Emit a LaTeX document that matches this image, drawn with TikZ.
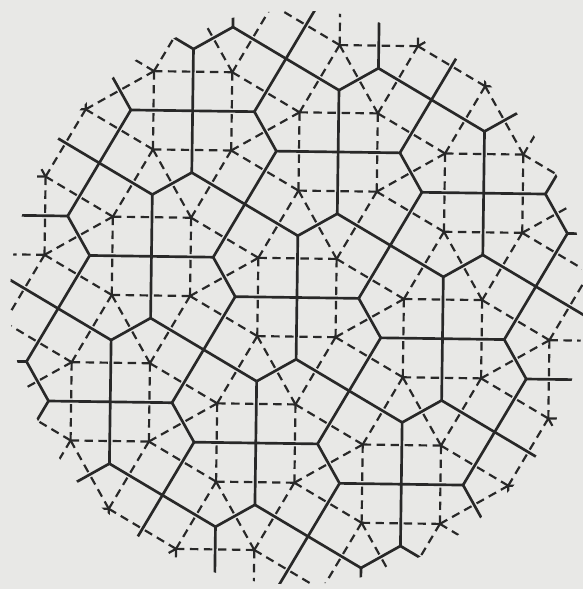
\documentclass[tikz,border=0pt]{standalone}
\usetikzlibrary{calc}
\begin{document}
\begin{tikzpicture}[
    x=1.9575cm, y=1.9575cm,
    cell/.style={draw=InkGrey, line width=1.9pt},
    dual/.style={draw=InkGrey, line width=1.55pt, dash pattern=on 6pt off 3.9pt},
]
    \definecolor{PaperGrey}{RGB}{232,232,230}
    \definecolor{InkGrey}{RGB}{40,40,40}

    \fill[PaperGrey] (-3.793,-3.723) rectangle (3.653,3.800);
    \useasboundingbox (-3.793,-3.723) rectangle (3.653,3.800);

    \begin{scope}[rotate=-0.8]
    \clip (0,0) circle (3.665);
    \foreach \r in {0,90,180,270} {
    \begin{scope}[rotate=\r]
        % Sites of one quarter (and the neighbours they need)
        \coordinate (A) at (0.5,0.5);
        \coordinate (RA) at (-0.5,0.5);
        \coordinate (B) at (0,1.366);
        \coordinate (pB) at (1.366,0);
        \coordinate (C) at (1,1.366);
        \coordinate (D) at (0,2.366);
        \coordinate (pD) at (2.366,0);
        \coordinate (E) at (1,2.366);
        \coordinate (F) at (0.5,3.232);
        \coordinate (G) at (1.5,3.232);
        \coordinate (H) at (2.366,2.732);
        \coordinate (I) at (1.866,1.866);
        \coordinate (J) at (2.866,1.866);
        \coordinate (K) at (1.866,0.866);
        \coordinate (L) at (2.866,0.866);
        % outer ring, cut off by the circle
        \coordinate (X) at (-0.366,3.732);
        \coordinate (Xp) at (3.732,0.366);
        \coordinate (Y) at (0.5,4.232);
        \coordinate (Z) at (1.5,4.232);
        \coordinate (W) at (2.366,3.732);
        \coordinate (Wp) at (3.732,1.366);
        \coordinate (N) at (3.366,2.732);

        % Dual (dashed) edges, each drawn from both of its ends
        \foreach \p/\q in {A/B, A/C, A/RA, A/pB, B/C, B/D, K/pB, C/E, C/K, C/I,
                           D/E, D/F, L/pD, K/pD, E/F, E/G, E/I, F/G, G/H, H/I,
                           H/J, I/J, I/K, J/L, K/L, L/Xp, L/Wp, J/Wp, J/N, H/N,
                           H/W, G/W, G/Z, F/Y, F/X} {
            \draw[dual] (\p) -- ($(\p)!0.5!(\q)$);
            \draw[dual] (\q) -- ($(\q)!0.5!(\p)$);
        }

        % Cell corners: centres of the squares and triangles
        \coordinate (q0) at (0,0);
        \coordinate (t1) at (0,0.789);
        \coordinate (pt1) at (0.789,0);
        \coordinate (t2) at (0.5,1.077);
        \coordinate (q1) at (1.183,0.683);
        \coordinate (q2) at (0.5,1.866);
        \coordinate (t4) at (-0.289,1.866);
        \coordinate (pt4) at (1.866,0.289);
        \coordinate (t5) at (0.5,2.655);
        \coordinate (pt6) at (2.366,0.577);
        \coordinate (t7) at (1.289,1.866);
        \coordinate (t8) at (1.577,1.366);
        \coordinate (t9) at (1,2.943);
        \coordinate (q3) at (1.683,2.549);
        \coordinate (t10) at (2.366,2.155);
        \coordinate (q4) at (2.366,1.366);
        \coordinate (s0) at (-0.183,3.049);
        \coordinate (ps0) at (3.049,0.183);
        \coordinate (u1) at (3.443,0.866);
        \coordinate (u2) at (3.155,1.366);
        \coordinate (o1) at (3.549,2.049);
        \coordinate (o2) at (2.866,2.443);
        \coordinate (o3) at (2.077,3.232);
        \coordinate (o4) at (1,3.732);
        \coordinate (o5) at (0.211,3.732);
        \coordinate (o6) at (4.021,0.866);

        % Cell walls
        \foreach \p/\q in {q0/t1, t1/t2, t2/q1, q1/pt1, t2/q2, q2/t4, q1/pt4, q2/t7,
                           q1/t8, t7/t8, q2/t5, t5/s0, pt6/ps0, pt4/pt6, t5/t9, t9/q3,
                           t7/q3, t9/o4, q3/o3, q3/t10, t10/o2, t10/q4, t8/q4, q4/u2,
                           q4/pt6, ps0/u1, u1/u2, u2/o1, u1/o6, s0/o5}
            \draw[cell] (\p) -- (\q);
    \end{scope}
    }
    \end{scope}
\end{tikzpicture}
\end{document}
